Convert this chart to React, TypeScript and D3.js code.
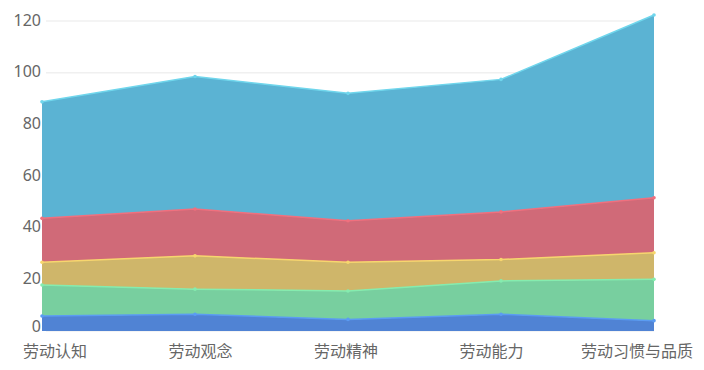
import React, { useEffect, useRef } from 'react';
import * as d3 from 'd3';

const categories = ['劳动认知', '劳动观念', '劳动精神', '劳动能力', '劳动习惯与品质'];
const seriesA = [5.8, 6.5, 4.5, 6.5, 4.0];
const seriesB = [12.0, 9.7, 11.0, 12.9, 16.0];
const seriesC = [8.8, 12.9, 11.1, 8.3, 10.3];
const seriesD = [17.0, 18.1, 16.1, 18.4, 21.3];
const seriesE = [45.1, 51.3, 49.3, 51.3, 70.7];
const yTicks = [0, 20, 40, 60, 80, 100, 120];

const fills = ['#5083d4', '#78cf9f', '#cfb66a', '#d06a78', '#5bb3d3'];
const strokes = ['#5b9cf2', '#85ecaf', '#f7d66e', '#f0707e', '#70d6ec'];

const App = () => {
  const ref = useRef(null);

  useEffect(() => {
    const svg = d3.select(ref.current);
    svg.selectAll('*').remove();

    const all = [seriesA, seriesB, seriesC, seriesD, seriesE];
    const rows = categories.map((c, i) => {
      const r: any = { cat: c };
      all.forEach((s, k) => (r['s' + k] = s[i]));
      return r;
    });
    const stacked = d3.stack().keys(all.map((_, k) => 's' + k))(rows);

    const x = d3.scalePoint().domain(categories).range([42, 654]);
    const xLabel = d3.scalePoint().domain(categories).range([55, 637]);
    const y = d3.scaleLinear().domain([0, 120]).range([331, 21]);

    // grid
    svg
      .append('g')
      .selectAll('line')
      .data(yTicks)
      .join('line')
      .attr('x1', 46)
      .attr('x2', 654)
      .attr('y1', (d) => y(d))
      .attr('y2', (d) => y(d))
      .attr('stroke', '#f0f0f0')
      .attr('stroke-width', 1.5);

    // y labels
    svg
      .append('g')
      .selectAll('text')
      .data(yTicks)
      .join('text')
      .attr('x', 41)
      .attr('y', (d) => y(d))
      .attr('dy', d => (d === 0 ? '0.05em' : '0.3em'))
      .attr('text-anchor', 'end')
      .attr('font-family', '"Noto Sans", sans-serif')
      .attr('font-size', 16)
      .attr('fill', '#666')
      .text((d) => d);

    const area = d3
      .area<any>()
      .x((d) => x(d.data.cat)!)
      .y0((d) => y(d[0]))
      .y1((d) => y(d[1]));
    const line = d3
      .line<any>()
      .x((d) => x(d.data.cat)!)
      .y((d) => y(d[1]));

    stacked.forEach((layer, k) => {
      svg.append('path').attr('d', area(layer as any)).attr('fill', fills[k]);
    });
    stacked.forEach((layer, k) => {
      svg
        .append('path')
        .attr('d', line(layer as any))
        .attr('fill', 'none')
        .attr('stroke', strokes[k])
        .attr('stroke-width', 1.5);
      svg
        .append('g')
        .selectAll('circle')
        .data(layer)
        .join('circle')
        .attr('cx', (d: any) => x(d.data.cat)!)
        .attr('cy', (d: any) => y(d[1]))
        .attr('r', 1.8)
        .attr('fill', strokes[k]);
    });

    // x labels
    svg
      .append('g')
      .selectAll('text')
      .data(categories)
      .join('text')
      .attr('x', (d) => xLabel(d)!)
      .attr('y', 357)
      .attr('text-anchor', 'middle')
      .attr('font-family', '"Noto Sans CJK SC", sans-serif')
      .attr('font-size', 16)
      .attr('fill', '#666')
      .text((d) => d);
  }, []);

  return (
    <svg
      ref={ref}
      width={704}
      height={370}
      style={{ position: 'absolute', left: 0, top: 0, background: '#fff' }}
    ></svg>
  );
};

export default App;
